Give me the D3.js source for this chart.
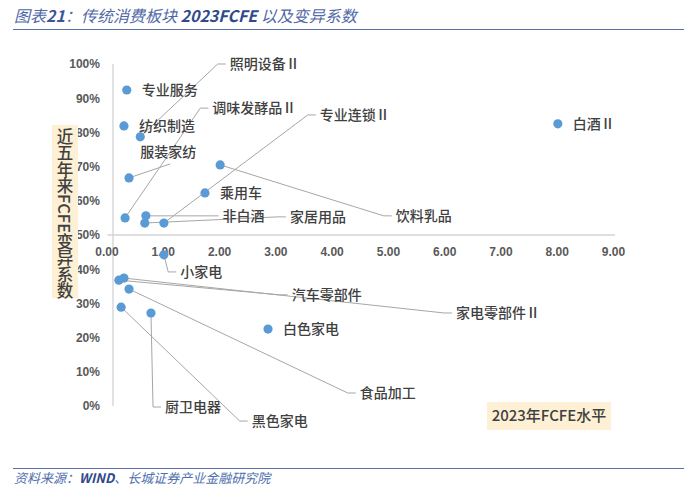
<!DOCTYPE html>
<html>
<head>
<meta charset="utf-8">
<script src="https://cdn.jsdelivr.net/npm/d3@7"></script>
<style>
    html, body { margin: 0; padding: 0; background: #fff; }
    svg { display: block; }
</style>
</head>
<body>
<div id="chart"></div>
<script>
// categories and values
var categories = ['专业服务', '纺织制造', '照明设备Ⅱ', '服装家纺', '饮料乳品', '乘用车',
    '调味发酵品Ⅱ', '非白酒', '家居用品', '专业连锁Ⅱ', '白酒Ⅱ', '小家电',
    '汽车零部件', '家电零部件Ⅱ', '食品加工', '黑色家电', '厨卫电器', '白色家电'];
var fcfe2023 = [0.36, 0.31, 0.60, 0.40, 2.02, 1.75,
    0.33, 0.70, 0.68, 1.02, 8.02, 1.02,
    0.22, 0.31, 0.40, 0.26, 0.79, 2.87];
var cv5y = [0.924, 0.819, 0.787, 0.667, 0.705, 0.623,
    0.550, 0.556, 0.535, 0.535, 0.825, 0.442,
    0.368, 0.374, 0.342, 0.289, 0.272, 0.225];
var xTicks = [0, 1, 2, 3, 4, 5, 6, 7, 8, 9];
var yTicks = [0, 0.1, 0.2, 0.3, 0.4, 0.5, 0.6, 0.7, 0.8, 0.9, 1.0];
var xAxisTitle = '2023年FCFE水平';
var yAxisTitle = '近五年来FCFE变异系数';

// where the moved labels sit, in axis units (others sit right of their point)
var labelAt = {
    '照明设备Ⅱ': [2.19, 1.00],
    '服装家纺': [0.60, 0.743, 'bottom'],
    '饮料乳品': [5.14, 0.556],
    '调味发酵品Ⅱ': [1.88, 0.871],
    '非白酒': [2.06, 0.556],
    '家居用品': [3.26, 0.553],
    '专业连锁Ⅱ': [3.79, 0.851],
    '小家电': [1.31, 0.392],
    '汽车零部件': [3.29, 0.325],
    '家电零部件Ⅱ': [6.21, 0.272],
    '食品加工': [4.50, 0.038],
    '黑色家电': [2.58, -0.044],
    '厨卫电器': [1.04, -0.003]
};
var yAxisCrossesAt = 0.115;
var xAxisCrossesAt = 0.5;

var width = 696, height = 500;
var cjk = '"Noto Sans CJK SC", "Noto Sans", sans-serif';

var svg = d3.select('#chart').append('svg')
    .attr('width', width)
    .attr('height', height);

svg.append('rect').attr('width', width).attr('height', height).attr('fill', '#fff');

// header
var title = svg.append('text')
    .attr('x', 14).attr('y', 22)
    .style('font-family', cjk)
    .style('font-size', '16px')
    .style('font-style', 'italic')
    .attr('fill', '#4f68a6');
title.append('tspan').text('图表');
title.append('tspan').style('font-weight', 'bold').attr('fill', '#3b5596').text('21');
title.append('tspan').text('：传统消费板块 ');
title.append('tspan').style('font-weight', 'bold').attr('fill', '#2f4a8c').text('2023FCFE');
title.append('tspan').text(' 以及变异系数');

svg.append('line')
    .attr('x1', 13).attr('x2', 684).attr('y1', 29.5).attr('y2', 29.5)
    .attr('stroke', '#5a6fa8').attr('stroke-width', 1);

svg.append('line')
    .attr('x1', 13).attr('x2', 684).attr('y1', 468.5).attr('y2', 468.5)
    .attr('stroke', '#5a6fa8').attr('stroke-width', 1);

var source = svg.append('text')
    .attr('x', 14).attr('y', 483)
    .style('font-family', cjk)
    .style('font-size', '13px')
    .style('font-style', 'italic')
    .attr('fill', '#4f6fae');
source.append('tspan').text('资料来源：');
source.append('tspan').style('font-weight', 'bold').attr('fill', '#2f4a8c').text('WIND');
source.append('tspan').text('、长城证券产业金融研究院');

// scales
var x = d3.scaleLinear().domain([0, 9]).range([106.5, 613]);
var y = d3.scaleLinear().domain([0, 1]).range([406, 64]);

var axisX = x(yAxisCrossesAt);
var axisY = y(xAxisCrossesAt);

svg.append('line')
    .attr('x1', axisX).attr('x2', axisX)
    .attr('y1', y(0)).attr('y2', y(1))
    .attr('stroke', '#d9d9d9').attr('stroke-width', 1.5);

svg.append('line')
    .attr('x1', x(0) + 1).attr('x2', x(9) + 2)
    .attr('y1', axisY).attr('y2', axisY)
    .attr('stroke', '#d4d4d4').attr('stroke-width', 1.5);

var yAxis = svg.append('g')
    .attr('transform', 'translate(' + axisX + ',0)')
    .call(d3.axisLeft(y).tickValues(yTicks).tickFormat(d3.format('.0%')).tickSize(0).tickPadding(13));

var xAxis = svg.append('g')
    .attr('transform', 'translate(0,' + axisY + ')')
    .call(d3.axisBottom(x).tickValues(xTicks).tickFormat(d3.format('.2f')).tickSize(0).tickPadding(12));

[xAxis, yAxis].forEach(function (g) {
    g.select('.domain').remove();
    g.selectAll('text')
        .style('font-family', '"Liberation Sans", Arial, sans-serif')
        .style('font-size', '12px')
        .style('font-weight', 'bold')
        .attr('fill', '#595959');
});

// axis titles
svg.append('rect')
    .attr('x', 52).attr('y', 125).attr('width', 26).attr('height', 173)
    .attr('fill', '#fdf0d4');
svg.append('text')
    .attr('x', 65).attr('y', 128)
    .style('writing-mode', 'vertical-rl')
    .style('font-family', cjk)
    .style('font-size', '16.5px')
    .style('font-weight', 500)
    .attr('fill', '#404040')
    .text(yAxisTitle);

svg.append('rect')
    .attr('x', 487).attr('y', 402).attr('width', 124).attr('height', 28)
    .attr('fill', '#fdf0d4');
svg.append('text')
    .attr('x', 549).attr('y', 421)
    .attr('text-anchor', 'middle')
    .style('font-family', cjk)
    .style('font-size', '15px')
    .style('font-weight', 500)
    .attr('fill', '#404040')
    .text(xAxisTitle);

// points + labels
var pts = categories.map(function (name, i) {
    return { name: name, fx: fcfe2023[i], cv: cv5y[i], lab: labelAt[name] };
});

var leaders = svg.append('g');
pts.forEach(function (d) {
    if (!d.lab) return;
    var px = x(d.fx), py = y(d.cv);
    var lx = x(d.lab[0]), ly = y(d.lab[1]);
    var path;
    if (d.lab[2] === 'bottom') {
        path = [[px, py], [lx + 30, ly + 12]];
    } else {
        path = [[px, py], [lx - 12, ly], [lx - 4, ly]];
    }
    leaders.append('path')
        .attr('d', d3.line()(path))
        .attr('fill', 'none')
        .attr('stroke', '#a6a6a6')
        .attr('stroke-width', 1);
});

svg.append('g').selectAll('circle')
    .data(pts)
    .join('circle')
    .attr('cx', function (d) { return x(d.fx); })
    .attr('cy', function (d) { return y(d.cv); })
    .attr('r', 4.6)
    .attr('fill', '#5b9bd5');

svg.append('g').selectAll('text')
    .data(pts)
    .join('text')
    .attr('x', function (d) { return d.lab ? x(d.lab[0]) : x(d.fx) + 15; })
    .attr('y', function (d) { return d.lab ? y(d.lab[1]) : y(d.cv); })
    .attr('dy', '0.36em')
    .style('font-family', cjk)
    .style('font-size', '14px')
    .style('font-weight', 500)
    .attr('fill', '#404040')
    .text(function (d) { return d.name; });
</script>
</body>
</html>
